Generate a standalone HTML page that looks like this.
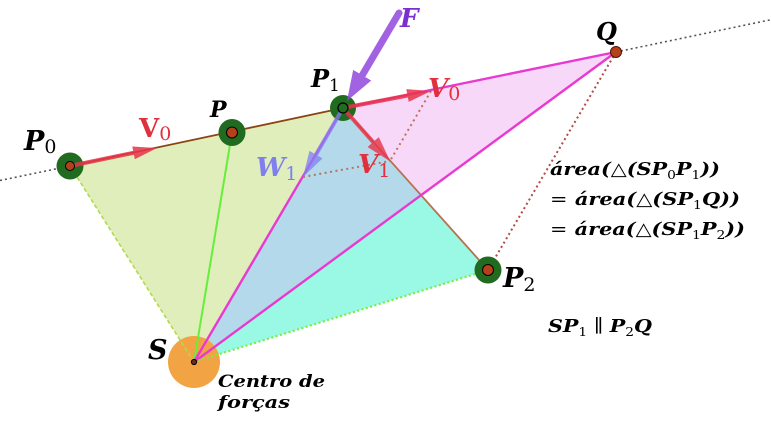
<!DOCTYPE html>
<html><head><meta charset="utf-8"><style>
html,body{margin:0;padding:0;background:#fff}
svg{display:block}
.t{font-family:"DejaVu Serif","Liberation Serif",serif;font-weight:bold;font-style:italic}
.n{font-style:normal;font-weight:normal}
.nb{font-style:normal}
</style></head><body>
<svg width="771" height="422" viewBox="0 0 771 422" xmlns="http://www.w3.org/2000/svg">
<defs>
<marker id="mr" markerUnits="userSpaceOnUse" viewBox="0 -7 24 14" markerWidth="24" markerHeight="14" refX="14" refY="0" orient="auto"><path d="M0,-6.5 L24,0 L0,6.5 z" fill="#e8334a"/></marker>
<marker id="mr2" markerUnits="userSpaceOnUse" viewBox="0 -8 26 16" markerWidth="26" markerHeight="16" refX="14" refY="0" orient="auto"><path d="M0,-7.5 L26,0 L0,7.5 z" fill="#e8334a"/></marker>
<marker id="mb" markerUnits="userSpaceOnUse" viewBox="0 -8 26 16" markerWidth="26" markerHeight="16" refX="16" refY="0" orient="auto"><path d="M0,-7.5 L26,0 L0,7.5 z" fill="#7f7ff5"/></marker>
<marker id="mp" markerUnits="userSpaceOnUse" viewBox="0 -11 30 22" markerWidth="30" markerHeight="22" refX="15" refY="0" orient="auto"><path d="M0,-10.5 L30,0 L0,10.5 z" fill="#9148dc"/></marker>
</defs>
<rect width="771" height="422" fill="#fff"/>
<!-- fills -->
<polygon points="194,362 70,166 343,108" fill="#dfeebb"/>
<polygon points="343,108 616,52 421.5,195.5" fill="#f8d8f8"/>
<polygon points="194,362 343,108 421.5,195.5" fill="#b3d9ea"/>
<polygon points="194,362 421.5,195.5 488,270" fill="#99f9e4"/>
<!-- extended dotted line -->
<line x1="0" y1="180.5" x2="70" y2="166" stroke="#555" stroke-width="1.6" stroke-dasharray="2,3"/>
<line x1="616" y1="52" x2="771" y2="19.7" stroke="#555" stroke-width="1.6" stroke-dasharray="2,3"/>
<!-- S circle -->
<circle cx="194" cy="362" r="26" fill="#f2a444"/>
<!-- dashed S-P0 -->
<line x1="194" y1="362" x2="70" y2="166" stroke="#b3d94a" stroke-width="1.6" stroke-dasharray="4,2.5"/>
<!-- brown lines -->
<line x1="70" y1="166" x2="343" y2="108" stroke="#8b4513" stroke-width="1.8"/>
<line x1="343" y1="108" x2="488" y2="270" stroke="#b8714f" stroke-width="1.8"/>
<!-- green S-P -->
<line x1="194" y1="362" x2="232" y2="132.5" stroke="#66ee3a" stroke-width="2"/>
<!-- magenta -->
<line x1="194" y1="362" x2="343" y2="108" stroke="#e83ad0" stroke-width="2.4"/>
<line x1="194" y1="362" x2="616" y2="52" stroke="#e83ad0" stroke-width="2.4"/>
<line x1="343" y1="108" x2="616" y2="52" stroke="#e83ad0" stroke-width="2.4"/>
<!-- dotted green S-P2 -->
<line x1="194" y1="362" x2="488" y2="270" stroke="#77ee44" stroke-width="2.2" stroke-dasharray="2,2.5"/>
<!-- dotted Q-P2 -->
<line x1="616" y1="52" x2="488" y2="270" stroke="#b34a4a" stroke-width="2" stroke-dasharray="2,3"/>
<!-- parallelogram dotted -->
<line x1="431" y1="91" x2="390" y2="161" stroke="#b8735f" stroke-width="2" stroke-dasharray="2,3.5"/>
<line x1="303" y1="177" x2="390" y2="161" stroke="#b8735f" stroke-width="2" stroke-dasharray="2,3.5"/>
<!-- halos -->
<circle cx="70" cy="166" r="13.5" fill="#216b21"/>
<circle cx="232" cy="132.5" r="13.5" fill="#216b21"/>
<circle cx="343" cy="108" r="13" fill="#216b21"/>
<circle cx="488" cy="270" r="13.5" fill="#216b21"/>
<!-- arrows -->
<g opacity="0.85"><line x1="70" y1="166" x2="147.2" y2="150" stroke="#e8334a" stroke-width="4" marker-end="url(#mr)"/></g>
<g opacity="0.85"><line x1="343" y1="108" x2="421.2" y2="92.9" stroke="#e8334a" stroke-width="4" marker-end="url(#mr)"/></g>
<g opacity="0.8"><line x1="343" y1="108" x2="382.4" y2="152.5" stroke="#e8334a" stroke-width="4" marker-end="url(#mr2)"/></g>
<g opacity="0.75"><line x1="343" y1="108" x2="308" y2="168.4" stroke="#7f7ff5" stroke-width="4" marker-end="url(#mb)"/></g>
<g opacity="0.85"><line x1="399" y1="13" x2="354.6" y2="88.1" stroke="#9148dc" stroke-width="7" stroke-linecap="round" marker-end="url(#mp)"/></g>
<!-- inner dots -->
<circle cx="70" cy="166" r="4.5" fill="#b5401a" stroke="#000" stroke-width="1"/>
<circle cx="232" cy="132.5" r="5.5" fill="#b5401a" stroke="#000" stroke-width="1"/>
<circle cx="343" cy="108" r="5" fill="#236b23" stroke="#000" stroke-width="1.2"/>
<circle cx="488" cy="270" r="5.5" fill="#b5401a" stroke="#000" stroke-width="1"/>
<circle cx="616" cy="52" r="5.5" fill="#b5401a" stroke="#4a1408" stroke-width="1"/>
<circle cx="194" cy="362" r="2.6" fill="#7a2a10" stroke="#000" stroke-width="1"/>
<!-- labels -->
<text class="t" x="24" y="150" font-size="27" fill="#000">P<tspan class="n" font-size="19" dy="3">0</tspan></text>
<text class="t" x="210" y="117" font-size="22" fill="#000">P</text>
<text class="t" x="311" y="87" font-size="24" fill="#000">P<tspan class="n" font-size="17" dy="4">1</tspan></text>
<text class="t" x="596" y="40" font-size="24" fill="#000">Q</text>
<text class="t" x="503" y="287" font-size="27" fill="#000">P<tspan class="n" font-size="19" dy="4">2</tspan></text>
<text class="t" x="148" y="359" font-size="27" fill="#000">S</text>
<text class="t" x="400" y="27" font-size="26" fill="#7a30d0">F</text>
<text class="t nb" x="139" y="137" font-size="26" fill="#e0303e">V<tspan class="n" font-size="19" dy="3">0</tspan></text>
<text class="t" x="428" y="97" font-size="26" fill="#e0303e">V<tspan class="n" font-size="19" dy="3">0</tspan></text>
<text class="t" x="358" y="173" font-size="26" fill="#e0303e">V<tspan class="n" font-size="19" dy="4">1</tspan></text>
<text class="t" x="256" y="176" font-size="26" fill="#7f7ff0">W<tspan class="n" font-size="19" dy="4">1</tspan></text>
<!-- equations -->
<text class="t" x="550" y="175" font-size="18" fill="#000" textLength="170" lengthAdjust="spacingAndGlyphs">área(<tspan class="nb">△</tspan>(SP<tspan class="n" font-size="12" dy="4">0</tspan><tspan dy="-4">P</tspan><tspan class="n" font-size="12" dy="4">1</tspan><tspan dy="-4">))</tspan></text>
<text class="t" x="550" y="205" font-size="18" fill="#000" textLength="190" lengthAdjust="spacingAndGlyphs"><tspan class="n">=</tspan> área(<tspan class="nb">△</tspan>(SP<tspan class="n" font-size="12" dy="4">1</tspan><tspan dy="-4">Q))</tspan></text>
<text class="t" x="550" y="235" font-size="18" fill="#000" textLength="195" lengthAdjust="spacingAndGlyphs"><tspan class="n">=</tspan> área(<tspan class="nb">△</tspan>(SP<tspan class="n" font-size="12" dy="4">1</tspan><tspan dy="-4">P</tspan><tspan class="n" font-size="12" dy="4">2</tspan><tspan dy="-4">))</tspan></text>
<text class="t" x="548" y="332" font-size="18" fill="#000" textLength="104" lengthAdjust="spacingAndGlyphs">SP<tspan class="n" font-size="12" dy="4">1</tspan><tspan class="n" dy="-4"> ∥ </tspan>P<tspan class="n" font-size="12" dy="4">2</tspan><tspan dy="-4">Q</tspan></text>
<!-- centro -->
<text class="t" x="218" y="387" font-size="17" fill="#000" textLength="107" lengthAdjust="spacingAndGlyphs">Centro de</text>
<text class="t" x="218" y="408" font-size="17" fill="#000" textLength="72" lengthAdjust="spacingAndGlyphs">forças</text>
</svg>
</body></html>
